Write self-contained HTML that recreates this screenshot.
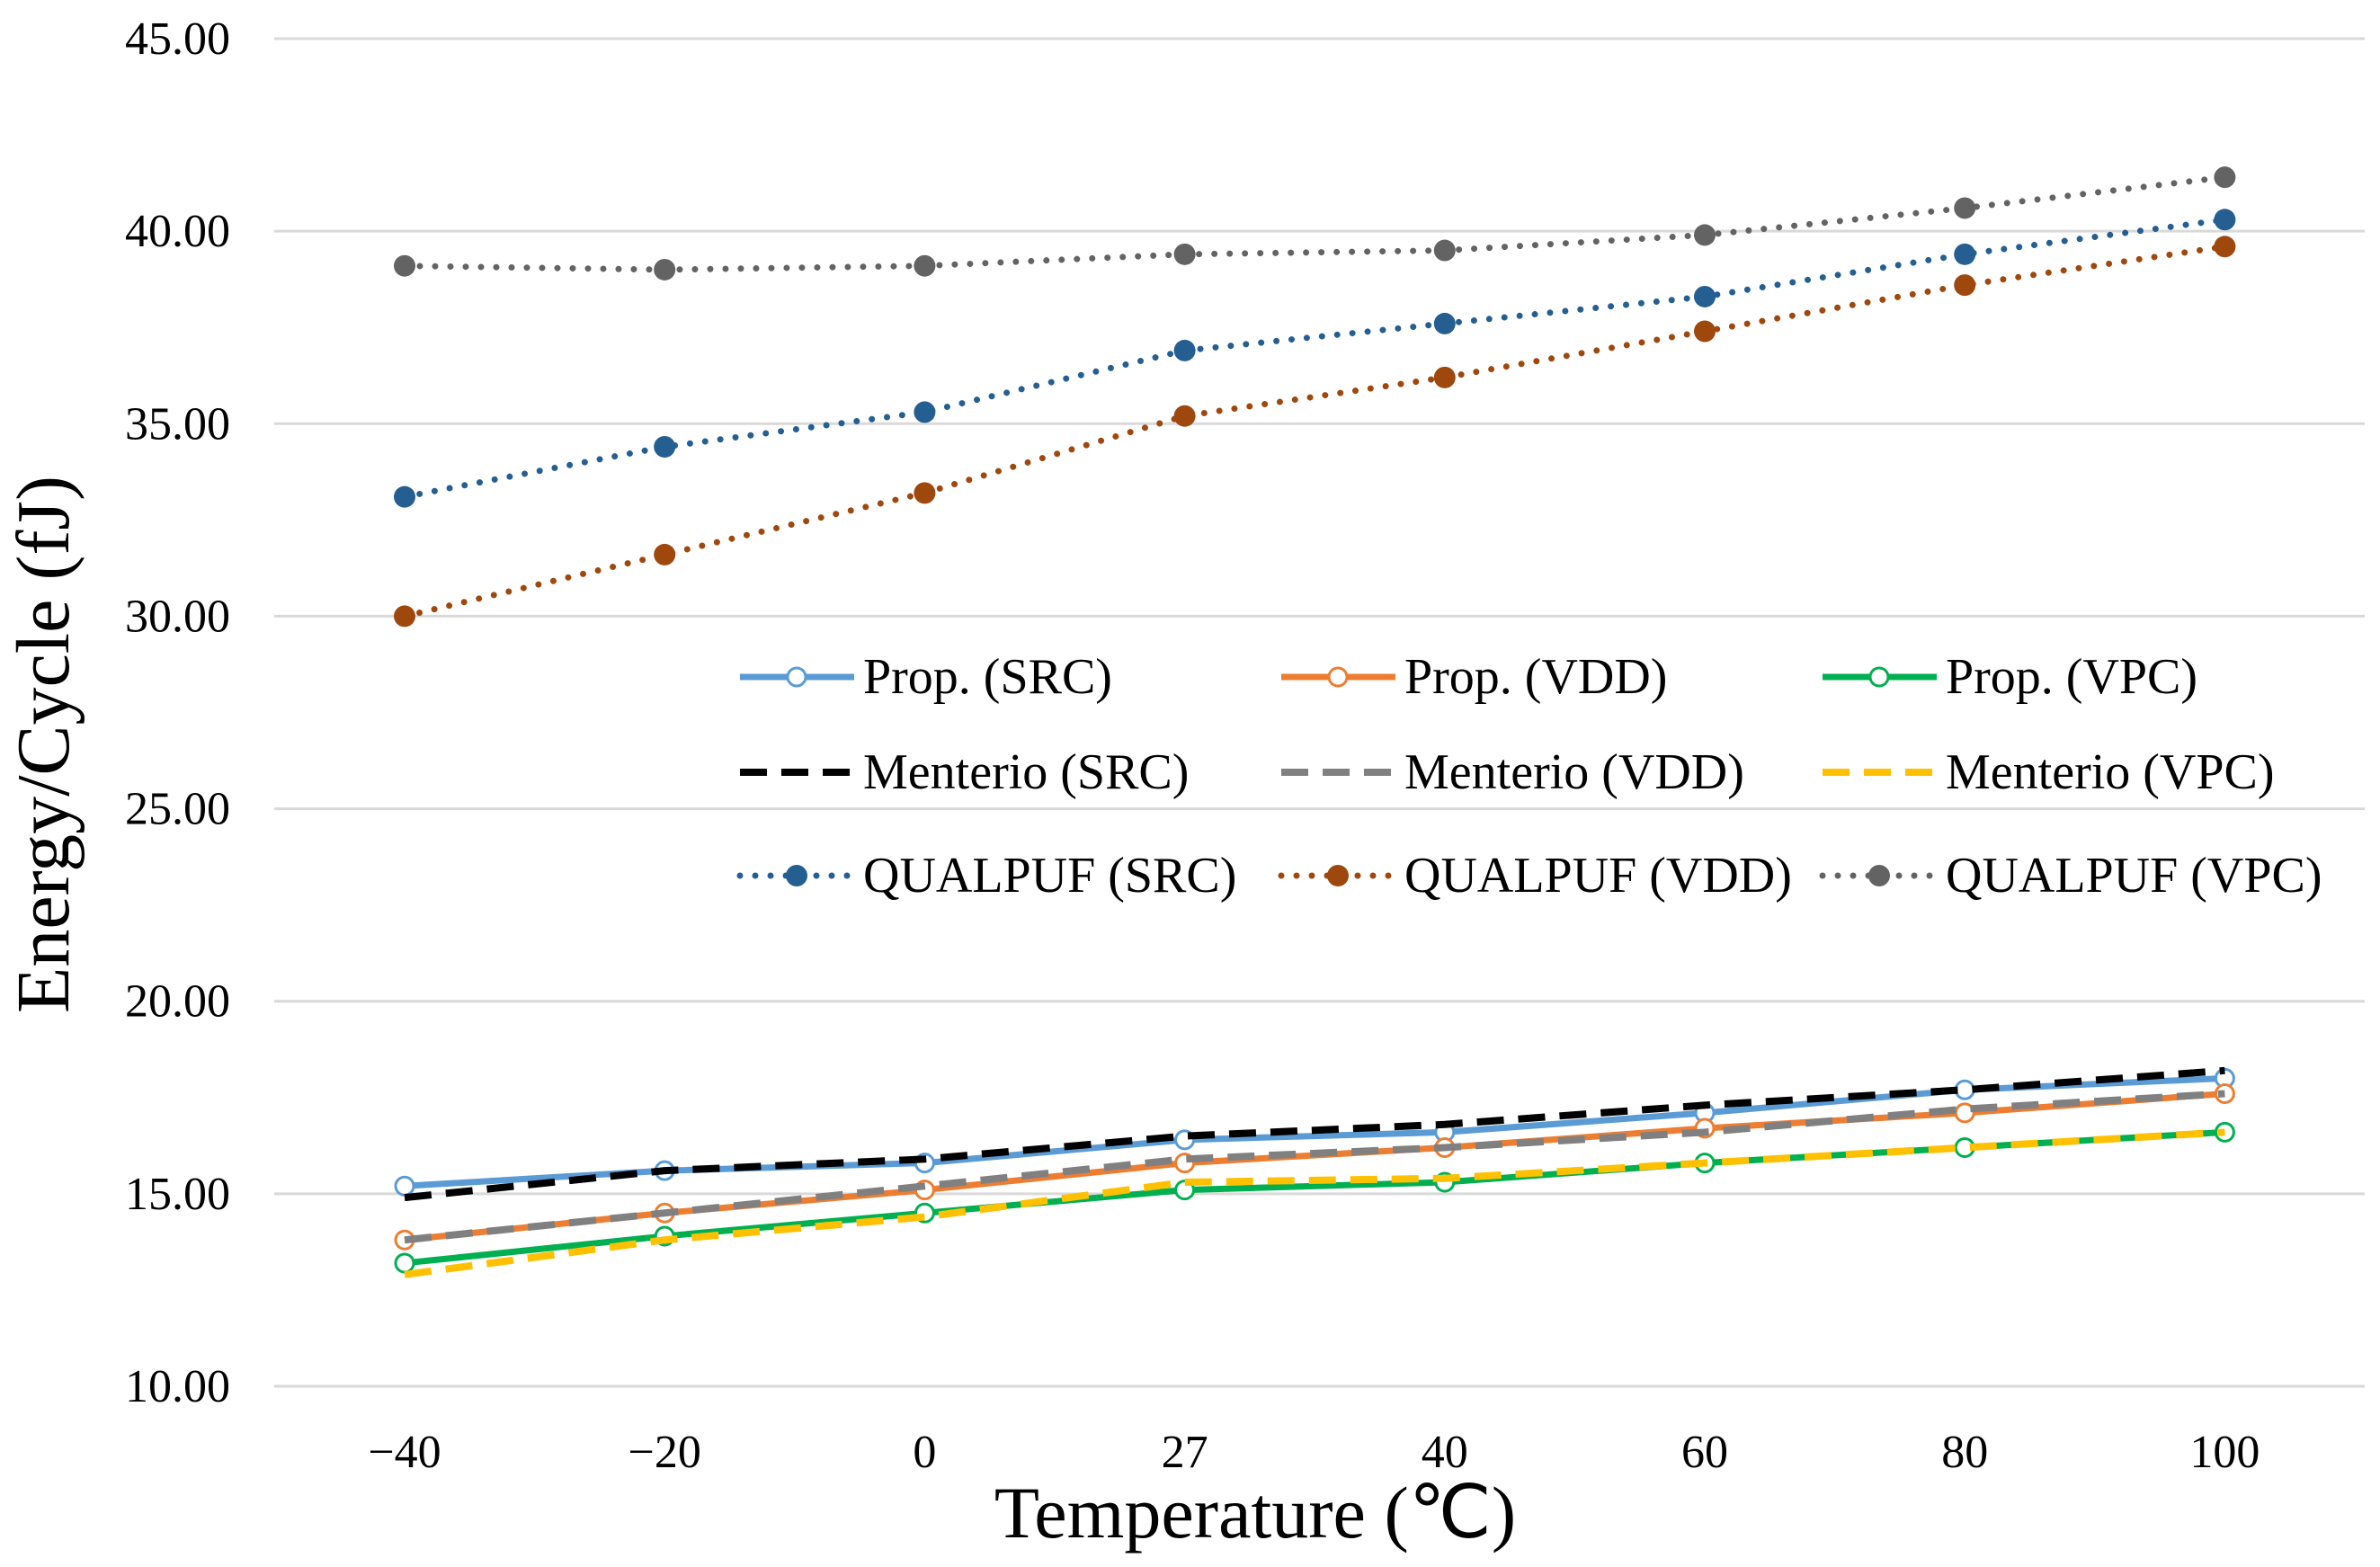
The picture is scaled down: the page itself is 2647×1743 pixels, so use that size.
<!DOCTYPE html>
<html><head><meta charset="utf-8"><style>
html,body{margin:0;padding:0;background:#fff}
svg{display:block}
text{font-family:"Liberation Serif",serif;fill:#000}
</style></head><body>
<svg id="chart" width="2647" height="1743" viewBox="0 0 2647 1743" xmlns="http://www.w3.org/2000/svg">
<g id="grid"></g>
<g id="yticks"></g>
<g id="xticks"></g>
<g id="series"></g>
<g id="legend"></g>
<text x="0" y="0" transform="translate(76,828) rotate(-90)" text-anchor="middle" font-size="84">Energy/Cycle (fJ)</text>
<text x="1396" y="1710" text-anchor="middle" font-size="82">Temperature (℃)</text>
</svg>
<script>
const categories = ["-40","-20","0","27","40","60","80","100"];
const yTicks = [10,15,20,25,30,35,40,45];
const propSRC = [15.2,15.6,15.8,16.4,16.6,17.1,17.7,18.0];
const propVDD = [13.8,14.5,15.1,15.8,16.2,16.7,17.1,17.6];
const propVPC = [13.2,13.9,14.5,15.1,15.3,15.8,16.2,16.6];
const menSRC = [14.9,15.6,15.9,16.5,16.8,17.3,17.7,18.2];
const menVDD = [13.8,14.5,15.2,15.9,16.2,16.6,17.2,17.6];
const menVPC = [12.9,13.8,14.4,15.3,15.4,15.8,16.2,16.6];
const quaSRC = [33.1,34.4,35.3,36.9,37.6,38.3,39.4,40.3];
const quaVDD = [30.0,31.6,33.2,35.2,36.2,37.4,38.6,39.6];
const quaVPC = [39.1,39.0,39.1,39.4,39.5,39.9,40.6,41.4];

const NS="http://www.w3.org/2000/svg";
const X0=450, XSTEP=289.2, Y45=43, Y10=1542;
function xs(i){return X0+i*XSTEP;}
function ys(v){return Y10-(v-10)*(Y10-Y45)/35;}
function mk(tag,attrs,parent){const e=document.createElementNS(NS,tag);for(const k in attrs)e.setAttribute(k,attrs[k]);parent.appendChild(e);return e;}

const grid=document.getElementById('grid'), yt=document.getElementById('yticks'), xt=document.getElementById('xticks');
yTicks.forEach(t=>{
  const l=mk('line',{x1:305,x2:2630,y1:ys(t),y2:ys(t),stroke:'#d9d9d9','stroke-width':3},grid);
  
  
  const tx=mk('text',{x:256,y:ys(t)+17,'text-anchor':'end','font-size':52},yt);
  tx.textContent=t.toFixed(2);
  
  
});
categories.forEach((c,i)=>{
  const tx=mk('text',{x:xs(i),y:1632,'text-anchor':'middle','font-size':52},xt);
  tx.textContent=c.replace('-','−');
  
  
});

const series=[
 {name:'Prop. (SRC)',data:propSRC,color:'#5b9bd5',type:'solid',marker:'open'},
 {name:'Prop. (VDD)',data:propVDD,color:'#ed7d31',type:'solid',marker:'open'},
 {name:'Prop. (VPC)',data:propVPC,color:'#00b050',type:'solid',marker:'open'},
 {name:'Menterio (SRC)',data:menSRC,color:'#000000',type:'dash',marker:'none'},
 {name:'Menterio (VDD)',data:menVDD,color:'#808080',type:'dash',marker:'none'},
 {name:'Menterio (VPC)',data:menVPC,color:'#ffc000',type:'dash',marker:'none'},
 {name:'QUALPUF (SRC)',data:quaSRC,color:'#255e91',type:'dot',marker:'filled'},
 {name:'QUALPUF (VDD)',data:quaVDD,color:'#9e480e',type:'dot',marker:'filled'},
 {name:'QUALPUF (VPC)',data:quaVPC,color:'#636363',type:'dot',marker:'filled'}
];
function lineAttrs(s){
  const a={fill:'none',stroke:s.color,'stroke-linejoin':'round'};
  if(s.type==='solid'){a['stroke-width']=7;}
  else if(s.type==='dash'){a['stroke-width']=8;a['stroke-dasharray']='30 16';}
  else {a['stroke-width']=7;a['stroke-dasharray']='0 17';a['stroke-linecap']='round';}
  return a;
}
function marker(s,x,y,parent){
  if(s.marker==='open') return mk('circle',{cx:x,cy:y,r:10,fill:'#fff',stroke:s.color,'stroke-width':3},parent);
  if(s.marker==='filled') return mk('circle',{cx:x,cy:y,r:12,fill:s.color},parent);
  return null;
}
const sg=document.getElementById('series');
[0,1,2,3,4,5,6,7,8].forEach(k=>{
  const s=series[k];
  const g=mk('g',{},sg);
  
  
  const pts=s.data.map((v,i)=>xs(i)+','+ys(v)).join(' ');
  const pl=mk('polyline',Object.assign({points:pts},lineAttrs(s)),g);
  
  
  s.data.forEach((v,i)=>{
    const m=marker(s,xs(i),ys(v),g);
    if(m){
      
      
    }
  });
});

const lg=document.getElementById('legend');
const colX=[823,1425,2027], rowY=[753,859,974];
series.forEach((s,k)=>{
  const r=Math.floor(k/3), c=k%3;
  const g=mk('g',{},lg);
  
  
  const x=colX[c], y=rowY[r];
  mk('line',Object.assign({x1:x,x2:x+127,y1:y,y2:y},lineAttrs(s)),g);
  marker(s,x+63,y,g);
  const t=mk('text',{x:x+137,y:y+18,'font-size':56},g);
  t.textContent=s.name;
});
</script>
</body></html>
